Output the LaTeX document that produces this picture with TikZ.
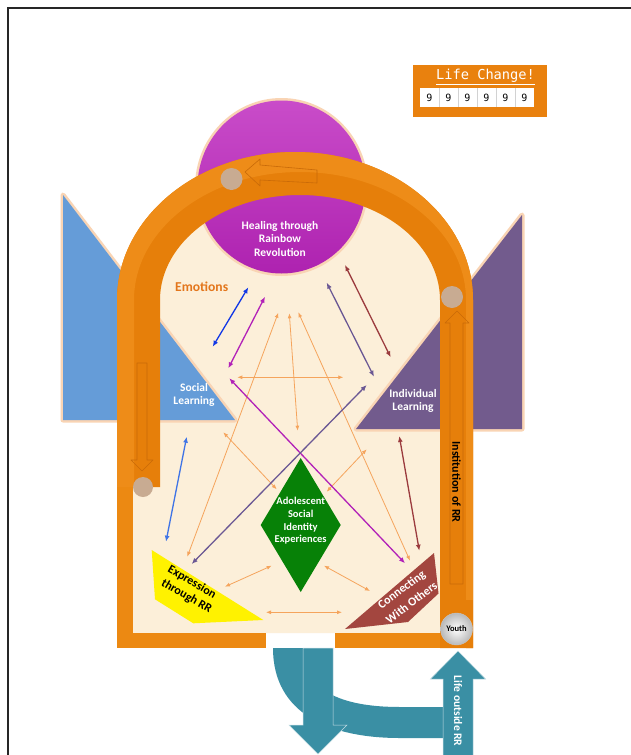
\documentclass[tikz,border=0pt]{standalone}
\usepackage{fontspec}
\setmainfont{Carlito}
\newfontfamily\lcmono{DejaVu Sans Mono}
\usetikzlibrary{arrows.meta}
\definecolor{cream}{HTML}{FCEFD9}
\definecolor{archdk}{HTML}{E67F0A}
\definecolor{archlt}{HTML}{EE8C18}
\definecolor{archmd}{HTML}{EC8912}
\definecolor{archln}{HTML}{C96A08}
\definecolor{sblue}{HTML}{659CD8}
\definecolor{ipurp}{HTML}{725B8D}
\definecolor{glowc}{HTML}{F9D4B4}
\definecolor{circtop}{HTML}{C94CC9}
\definecolor{circbot}{HTML}{AE22B0}
\definecolor{dgreen}{HTML}{078107}
\definecolor{cbrown}{HTML}{A3463F}
\definecolor{teal1}{HTML}{3A8FA4}
\definecolor{knob}{HTML}{C8AB92}
\definecolor{lorange}{HTML}{F5A45C}
\definecolor{emo}{HTML}{E3761C}
\definecolor{ablue}{HTML}{1238E6}
\definecolor{lblue}{HTML}{3F74E6}
\definecolor{amag}{HTML}{B221B8}
\definecolor{apurp}{HTML}{6B5894}
\definecolor{abrown}{HTML}{9B3B3E}
\definecolor{lcbox}{HTML}{E9810E}
\begin{document}
\begin{tikzpicture}[x=1pt,y=-1pt,
  lbl/.style={text=white,font=\fontsize{11.5}{13.5}\selectfont\bfseries,align=center,inner sep=0pt},
  dlbl/.style={text=black,font=\fontsize{12}{13.5}\selectfont\bfseries,align=center,inner sep=0pt},
  dbl/.style={{Latex[length=6pt,width=5pt]}-{Latex[length=6pt,width=5pt]},line width=1.3pt},
  thinarr/.style={{Latex[length=5pt,width=4pt]}-{Latex[length=5pt,width=4pt]},line width=0.8pt,draw=lorange},
  glowfill/.style={preaction={draw=glowc,line width=5pt,line join=round}},
  knobc/.style={circle,fill=knob,minimum size=22pt,inner sep=0pt},
  outl/.style={draw=archln,line width=0.6pt,line join=round},
]
\useasboundingbox (0,0) rectangle (631,755);
\fill[white] (0,0) rectangle (631,755);
\draw[line width=2pt,black!85] (8,755) -- (8,8) -- (631,8);

% cream interior
\fill[cream] (117,633) -- (117,300) arc[start angle=180,end angle=0,x radius=178pt,y radius=148pt] -- (473,633) -- cycle;

% purple circle
\path[glowfill,top color=circtop,bottom color=circbot] (281.5,187) ellipse[x radius=84pt,y radius=86.5pt];

% triangles
\path[glowfill,fill=sblue] (63,195) -- (235,420) -- (63,420) -- cycle;
\path[glowfill,fill=ipurp] (522,215) -- (522,429) -- (356,429) -- cycle;

% orange arch
\fill[archdk] (117,487) -- (117,300) arc[start angle=180,end angle=0,x radius=178pt,y radius=148pt] -- (473,648) -- (440,648) -- (440,300) arc[start angle=0,end angle=180,x radius=140pt,y radius=105pt] -- (160,487) -- cycle;
\fill[archlt] (117,487) -- (117,300) arc[start angle=180,end angle=0,x radius=178pt,y radius=148pt] -- (473,648) -- (466,648) -- (466,300) arc[start angle=0,end angle=180,x radius=166pt,y radius=128pt] -- (134,487) -- cycle;
\fill[archmd] (117,487) rectangle (133,648);
\fill[archmd] (117,633) rectangle (266,648);
\fill[archmd] (335,633) rectangle (473,648);
\fill[archdk] (440,600) rectangle (473,648);

% outlined arrows in the arch
\draw[outl] (317,170) -- (260,165) -- (260,159) -- (245,172) -- (260,186) -- (260,180) -- (317,183) -- cycle;
\draw[outl] (137,363) -- (147,363) -- (147,460) -- (153,460) -- (142,471) -- (131,460) -- (137,460) -- cycle;
\draw[outl] (450,584) -- (463,584) -- (463,323) -- (469,323) -- (457,311) -- (445,323) -- (450,323) -- cycle;

% knobs
\node[knobc] (k1) at (231.5,179) {};
\node[knobc] (k2) at (452,297) {};
\node[knobc,minimum size=20pt] (k3) at (143,487) {};

% inner shapes
\fill[dgreen] (300.7,458) -- (340.7,525) -- (300.7,592) -- (260.7,525) -- cycle;
\fill[yellow] (151.7,550) -- (263.3,620) -- (193.3,623.3) -- (155,599.3) -- cycle;
\fill[cbrown] (345,629) -- (434,553) -- (438.5,593.5) -- (408,622) -- cycle;

% arrow end points
\coordinate (a1s) at (248.3,287.3); \coordinate (a1e) at (212.7,346.7);
\coordinate (a2s) at (265,296.7);   \coordinate (a2e) at (228.3,368.3);
\coordinate (a3s) at (229.3,378.3); \coordinate (a3e) at (405,563.3);
\coordinate (a4s) at (366.7,385);   \coordinate (a4e) at (191.7,564);
\coordinate (a5s) at (326.7,282.7); \coordinate (a5e) at (374,376.7);
\coordinate (a6s) at (345,265);     \coordinate (a6e) at (390.7,357.3);
\coordinate (a7s) at (399.3,436);   \coordinate (a7e) at (419.3,550.7);
\coordinate (a8s) at (186.7,436.7); \coordinate (a8e) at (166,541.7);
\coordinate (o1s) at (237.3,377.3); \coordinate (o1e) at (343.3,377.3);
\coordinate (o2s) at (289.3,313.3); \coordinate (o2e) at (297.7,430.7);
\coordinate (o3s) at (278.3,312.7); \coordinate (o3e) at (187.3,556.7);
\coordinate (o4s) at (298.3,312.3); \coordinate (o4e) at (410,560.7);
\coordinate (o5s) at (223.3,432.3); \coordinate (o5e) at (276.7,489.3);
\coordinate (o6s) at (366.7,449.3); \coordinate (o6e) at (326.7,491.7);
\coordinate (o7s) at (271.7,565.7); \coordinate (o7e) at (225,586.7);
\coordinate (o8s) at (266,612.3);   \coordinate (o8e) at (342,612.3);
\coordinate (o9s) at (324,565.7);   \coordinate (o9e) at (370,591);

\foreach \n in {1,...,9} {\draw[thinarr] (o\n s) -- (o\n e);}
\draw[dbl,ablue] (a1s) -- (a1e);
\draw[dbl,amag] (a2s) -- (a2e);
\draw[dbl,amag] (a3s) -- (a3e);
\draw[dbl,apurp] (a4s) -- (a4e);
\draw[dbl,apurp] (a5s) -- (a5e);
\draw[dbl,abrown] (a6s) -- (a6e);
\draw[dbl,abrown] (a7s) -- (a7e);
\draw[dbl,lblue] (a8s) -- (a8e);

% labels
\node[lbl] (heal) at (280,239) {Healing through\\Rainbow\\Revolution};
\node[text=emo,font=\fontsize{13.6}{15}\selectfont\bfseries,inner sep=0pt] (emo) at (201.7,286.7) {Emotions};
\node[lbl] (soc) at (194,395) {Social\\Learning};
\node[lbl] (ind) at (413,401) {Individual\\Learning};
\node[lbl,font=\fontsize{10.5}{12.7}\selectfont\bfseries] (adol) at (300.7,521) {Adolescent\\Social\\Identity\\Experiences};
\node[dlbl,rotate=-30] (expr1) at (192,582.5) {Expression};
\node[dlbl,rotate=-30] (expr2) at (186.5,596.5) {through RR};
\node[lbl,font=\fontsize{12}{13.5}\selectfont\bfseries,rotate=37] (conn1) at (402,590) {Connecting};
\node[lbl,font=\fontsize{12}{13.5}\selectfont\bfseries,rotate=37] (conn2) at (411.5,602.5) {With Others};
\node[dlbl,rotate=-90] (inst) at (456.5,482) {Institution of RR};
\node[circle,minimum size=32pt,inner sep=0pt,draw=gray!45,line width=0.4pt,inner color=white,outer color=gray!55,font=\fontsize{8.5}{9}\selectfont\bfseries] (youth) at (456.5,629) {Youth};

% teal arrows
\fill[teal1] (273,648) .. controls (273,714) and (330,738) .. (400,738) -- (446,738) -- (446,707) -- (400,707) .. controls (340,707) and (303,690) .. (303,648) -- cycle;
\path[fill=teal1,draw=white!70!teal1,line width=0.5pt] (303,648) -- (333,648) -- (333,725) -- (347,725) -- (318,754) -- (289,725) -- (303,725) -- cycle;
\path[fill=teal1,draw=white!70!teal1,line width=0.5pt] (443,756) -- (443,679) -- (430.5,679) -- (458,651) -- (485.5,679) -- (473,679) -- (473,756);
\node[lbl,rotate=-90] (life) at (458,711) {Life outside RR};

% life change box
\fill[lcbox] (413,65) rectangle (547,117);
\node[text=white,font=\lcmono\fontsize{13.7}{14}\selectfont,inner sep=0pt] (lc) at (485.5,76) {Life Change!};
\draw[white,line width=1pt] (436,84.5) -- (535,84.5);
\fill[white] (420,88) rectangle (534,107);
\foreach \i in {1,...,5} {\draw[gray!35,line width=0.6pt] ({420+19*\i},88) -- ({420+19*\i},107);}
\foreach \i in {0,...,5} {\node[font=\lcmono\fontsize{10}{10}\selectfont,inner sep=0pt] (d\i) at ({429.5+19*\i},97.5) {9};}
\end{tikzpicture}
\end{document}
